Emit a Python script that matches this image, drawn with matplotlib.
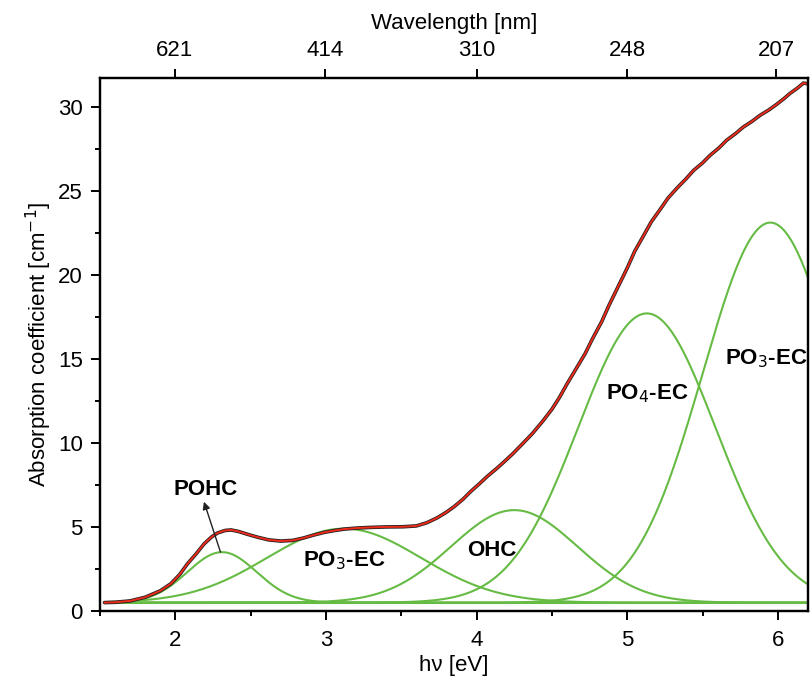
import numpy as np
import matplotlib
matplotlib.use("Agg")
import matplotlib.pyplot as plt

plt.rcParams['font.family'] = ['Liberation Sans', 'DejaVu Sans']

energy_eV = [1.53, 1.60, 1.70, 1.80, 1.90, 1.97, 2.03, 2.08, 2.14, 2.19, 2.24, 2.28,
             2.33, 2.37, 2.42, 2.48, 2.55, 2.62, 2.70, 2.78, 2.85, 2.92, 2.99, 3.06,
             3.12, 3.20, 3.29, 3.40, 3.51, 3.60, 3.67, 3.74, 3.80, 3.85, 3.91, 3.96,
             4.02, 4.07, 4.13, 4.18, 4.24, 4.30, 4.37, 4.44, 4.50, 4.55, 4.60, 4.66,
             4.72, 4.77, 4.83, 4.88, 4.94, 5.00, 5.05, 5.11, 5.16, 5.22, 5.27, 5.33,
             5.39, 5.44, 5.50, 5.55, 5.61, 5.66, 5.72, 5.77, 5.83, 5.88, 5.94, 5.99,
             6.04, 6.08, 6.13, 6.17, 6.20]
absorption = [0.5, 0.52, 0.6, 0.82, 1.2, 1.62, 2.18, 2.8, 3.42, 3.98, 4.4, 4.64,
              4.79, 4.82, 4.73, 4.56, 4.38, 4.23, 4.16, 4.2, 4.34, 4.52, 4.68, 4.79,
              4.87, 4.93, 4.97, 5.0, 5.01, 5.06, 5.25, 5.55, 5.88, 6.2, 6.65, 7.1,
              7.58, 8.0, 8.45, 8.85, 9.35, 9.9, 10.55, 11.3, 12.0, 12.7, 13.5, 14.4,
              15.3, 16.2, 17.2, 18.2, 19.3, 20.4, 21.4, 22.35, 23.15, 23.9, 24.55, 25.15,
              25.7, 26.2, 26.65, 27.1, 27.55, 28.0, 28.4, 28.78, 29.13, 29.47, 29.8, 30.12,
              30.47, 30.78, 31.1, 31.4, 31.35]
fit = absorption

# Gaussian components: name, center [eV], amplitude [cm^-1], sigma [eV]
comp_names = ['POHC', 'PO$_3$-EC', 'OHC', 'PO$_4$-EC', 'PO$_3$-EC']
comp_center = [2.31, 3.12, 4.25, 5.13, 5.95]
comp_amp = [3.0, 4.4, 5.5, 17.2, 22.6]
comp_sigma = [0.23, 0.51, 0.42, 0.455, 0.447]
baseline = 0.5

# Label positions (eV, value) and horizontal alignment
label_x = [2.20, 3.12, 4.10, 5.13, 6.195]
label_y = [7.2, 3.0, 3.6, 12.9, 15.0]
label_ha = ['center', 'center', 'center', 'center', 'right']

top_wavelengths = [621, 414, 310, 248, 207]

fig = plt.figure(figsize=(8.11, 6.89), dpi=100)
ax = fig.add_axes([0.1233, 0.1132, 0.8730, 0.7736])

green = '#66bb44'
xg = np.linspace(1.53, 6.2, 600)
ax.plot(xg, np.full_like(xg, baseline), color=green, lw=1.5)
for c, a, s in zip(comp_center, comp_amp, comp_sigma):
    ax.plot(xg, baseline + a * np.exp(-(xg - c) ** 2 / (2 * s ** 2)), color=green, lw=1.5)

ax.plot(energy_eV, absorption, color='#222222', lw=2.6, solid_capstyle='round',
        solid_joinstyle='round')
ax.plot(energy_eV, fit, color='#ee2a1b', lw=1.4, solid_joinstyle='round')

for name, lx, ly, ha in zip(comp_names, label_x, label_y, label_ha):
    ax.text(lx, ly, name, fontsize=16, fontweight='bold', ha=ha, va='center')

ax.annotate('', xy=(2.19, 6.5), xytext=(2.30, 3.5),
            arrowprops=dict(arrowstyle='-|>', color='#222222', lw=1.0,
                            mutation_scale=11, shrinkA=0, shrinkB=0))

ax.set_xlim(1.53, 6.2)
ax.set_ylim(0, 31.7)
ax.set_xticks([2, 3, 4, 5, 6])
ax.set_xticks(np.arange(1.5, 6.3, 0.5), minor=True)
ax.set_yticks([0, 5, 10, 15, 20, 25, 30])
ax.set_yticks(np.arange(0, 31.7, 2.5), minor=True)
ax.tick_params(which='major', direction='out', length=6.5, width=1.4, labelsize=16)
ax.tick_params(axis='x', which='major', pad=7)
ax.tick_params(axis='y', which='major', pad=6)
ax.tick_params(which='minor', direction='out', length=3.5, width=1.4)
for sp in ax.spines.values():
    sp.set_linewidth(1.6)

ax.set_xlabel('hν [eV]', fontsize=16, labelpad=3)
ax.set_ylabel('Absorption coefficient [cm$^{-1}$]', fontsize=16, labelpad=3)

top = ax.twiny()
top.set_xlim(ax.get_xlim())
top.set_xticks([1240.0 / w for w in top_wavelengths])
top.set_xticklabels([str(w) for w in top_wavelengths])
top.tick_params(direction='out', length=6.5, width=1.4, labelsize=16, pad=6)
top.set_xlabel('Wavelength [nm]', fontsize=16, labelpad=8)
for sp in top.spines.values():
    sp.set_linewidth(1.6)

fig.savefig('out.png', dpi=100)
